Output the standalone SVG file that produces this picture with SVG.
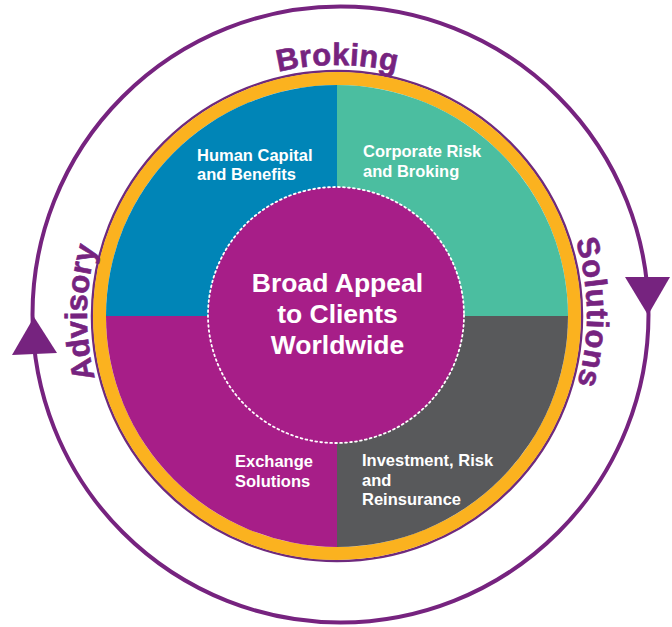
<svg xmlns="http://www.w3.org/2000/svg" xmlns:xlink="http://www.w3.org/1999/xlink" width="672" height="627" viewBox="0 0 672 627">
  <style>
    .lbl { font-family: "Liberation Sans", Arial, sans-serif; font-weight: bold; font-size: 16.5px; fill: #ffffff; }
    .ctr { font-family: "Liberation Sans", Arial, sans-serif; font-weight: bold; font-size: 26.5px; fill: #ffffff; text-anchor: middle; }
    .arc { font-family: "Liberation Sans", Arial, sans-serif; font-weight: bold; font-size: 31px; fill: #76237F; stroke: #76237F; stroke-width: 0.6; text-anchor: middle; }
    .cyc { fill: none; stroke: #76237F; stroke-width: 4; }
    .head { fill: #76237F; }
  </style>
  <defs>
    <path id="textCircle" d="M337,565 A250,250 0 0 1 337,65 A250,250 0 0 1 337,565"/>
  </defs>
  <rect width="672" height="627" fill="#ffffff"/>

  <g id="connectors">
    <circle class="cyc" cx="340.5" cy="314.5" r="308"/>
    <polygon class="head" points="625,277 670,277 648,315"/>
    <polygon class="head" points="12,355 57,353 34,317"/>
  </g>

  <g id="ring">
    <circle cx="337" cy="316" r="245" fill="none" stroke="#6E2A7E" stroke-width="2.5"/>
    <circle cx="337" cy="316" r="237.5" fill="none" stroke="#FBB21F" stroke-width="13"/>
  </g>

  <g id="human-capital">
    <path d="M337,316 L106,316 A231,231 0 0 1 337,85 Z" fill="#0085B7"/>
  </g>
  <g id="corporate-risk">
    <path d="M337,316 L337,85 A231,231 0 0 1 568,316 Z" fill="#4BBEA0"/>
  </g>
  <g id="investment-risk">
    <path d="M337,316 L568,316 A231,231 0 0 1 337,547 Z" fill="#58595B"/>
  </g>
  <g id="exchange-solutions">
    <path d="M337,316 L337,547 A231,231 0 0 1 106,316 Z" fill="#A71E88"/>
  </g>

  <g id="center">
    <circle cx="336" cy="315" r="128" fill="#A71E88" stroke="#ffffff" stroke-width="1.8" stroke-dasharray="1.8 3.2" stroke-linecap="round"/>
    <text class="ctr" x="337.5" y="292">Broad Appeal</text>
    <text class="ctr" x="337.5" y="323">to Clients</text>
    <text class="ctr" x="337.5" y="354">Worldwide</text>
  </g>

  <g id="labels">
    <text class="lbl" x="197" y="160.5">Human Capital</text>
    <text class="lbl" x="197" y="180">and Benefits</text>
    <text class="lbl" x="363" y="157">Corporate Risk</text>
    <text class="lbl" x="363" y="176.5">and Broking</text>
    <text class="lbl" x="235" y="467">Exchange</text>
    <text class="lbl" x="235" y="487">Solutions</text>
    <text class="lbl" x="362" y="466">Investment, Risk</text>
    <text class="lbl" x="362" y="486">and</text>
    <text class="lbl" x="362" y="505">Reinsurance</text>
  </g>

  <g id="cycle-labels">
    <text class="arc" letter-spacing="0"><textPath xlink:href="#textCircle" href="#textCircle" startOffset="395">Advisory</textPath></text>
    <text class="arc" letter-spacing="0.3"><textPath xlink:href="#textCircle" href="#textCircle" startOffset="785.4">Broking</textPath></text>
    <text class="arc" letter-spacing="0.6"><textPath xlink:href="#textCircle" href="#textCircle" startOffset="1175">Solutions</textPath></text>
  </g>
</svg>
